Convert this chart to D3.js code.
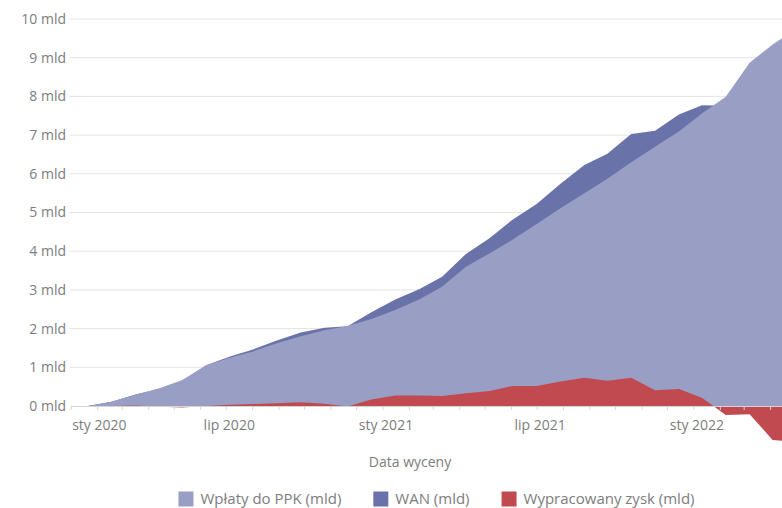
<!DOCTYPE html>
<html lang="pl">
<head>
<meta charset="UTF-8">
<title>PPK - wpłaty, WAN i wypracowany zysk</title>
<style>
    body {
        margin: 0;
        background: #fff;
        font-family: "Open Sans", "Noto Sans", sans-serif;
    }

    svg text {
        fill: #7d7d7d;
        font-size: 14px;
    }

    .legend text {
        font-size: 15px;
    }

    .grid line {
        stroke: #e3e3e3;
        stroke-width: 1;
    }

    .x-axis path,
    .x-axis line {
        stroke: #d4d4d4;
    }
</style>
</head>
<body>
<svg id="chart" width="782" height="508"></svg>

<script src="https://d3js.org/d3.v7.min.js"></script>
<script>
    // valuation dates
    const dates = [
        "2020-01-21", "2020-02-18", "2020-03-17", "2020-04-14", "2020-05-11", "2020-06-08",
        "2020-07-06", "2020-08-02", "2020-08-30", "2020-09-27", "2020-10-25", "2020-11-21",
        "2020-12-19", "2021-01-16", "2021-02-13", "2021-03-12", "2021-04-09", "2021-05-07",
        "2021-06-03", "2021-07-01", "2021-07-29", "2021-08-26", "2021-09-22", "2021-10-20",
        "2021-11-17", "2021-12-15", "2022-01-11", "2022-02-08", "2022-03-08", "2022-04-04",
        "2022-05-02"
    ];

    // mld zł
    const wplaty = [
        0.00, 0.11, 0.29, 0.46, 0.67, 1.05, 1.25, 1.41, 1.62, 1.80, 1.96, 2.07,
        2.25, 2.48, 2.75, 3.08, 3.60, 3.95, 4.30, 4.70, 5.11, 5.50, 5.87, 6.30,
        6.70, 7.09, 7.56, 7.99, 8.87, 9.34, 9.76
    ];
    const wan = [
        0.00, 0.11, 0.30, 0.44, 0.63, 1.05, 1.28, 1.46, 1.69, 1.90, 2.02, 2.06,
        2.42, 2.75, 3.02, 3.34, 3.93, 4.34, 4.82, 5.22, 5.74, 6.23, 6.52, 7.03,
        7.11, 7.53, 7.77, 7.76, 8.66, 8.46, 8.83
    ];
    const zysk = [
        0.00, 0.00, 0.01, -0.02, -0.04, 0.00, 0.03, 0.05, 0.07, 0.10, 0.06, -0.01,
        0.17, 0.27, 0.27, 0.26, 0.33, 0.39, 0.52, 0.52, 0.63, 0.73, 0.65, 0.73,
        0.41, 0.44, 0.21, -0.23, -0.21, -0.88, -0.93
    ];

    const yTicks = [0, 1, 2, 3, 4, 5, 6, 7, 8, 9, 10];
    const xLabelDates = ["2020-01-01", "2020-07-01", "2021-01-01", "2021-07-01", "2022-01-01"];
    const seriesNames = ["Wpłaty do PPK (mld)", "WAN (mld)", "Wypracowany zysk (mld)"];
    const seriesColors = ["#999fc4", "#6a73a9", "#c04a4f"];

    const parse = d3.timeParse("%Y-%m-%d");
    const pl = d3.timeFormatLocale({
        dateTime: "%A, %e %B %Y, %X",
        date: "%d.%m.%Y",
        time: "%H:%M:%S",
        periods: ["AM", "PM"],
        days: ["niedziela", "poniedziałek", "wtorek", "środa", "czwartek", "piątek", "sobota"],
        shortDays: ["niedz.", "pon.", "wt.", "śr.", "czw.", "pt.", "sob."],
        months: ["styczeń", "luty", "marzec", "kwiecień", "maj", "czerwiec", "lipiec", "sierpień", "wrzesień", "październik", "listopad", "grudzień"],
        shortMonths: ["sty", "lut", "mar", "kwi", "maj", "cze", "lip", "sie", "wrz", "paź", "lis", "gru"]
    });
    const fmt = pl.format("%b %Y");

    const rows = dates.map((d, i) => ({
        date: parse(d),
        wplaty: wplaty[i],
        wan: wan[i],
        zysk: zysk[i]
    }));

    const plotLeft = 70.7, plotRight = 782, plotTop = 19, plotBottom = 406;

    const svg = d3.select("#chart");

    const x = d3.scaleTime()
        .domain([parse("2020-01-01"), parse("2022-04-15")])
        .range([plotLeft, plotRight]);

    const y = d3.scaleLinear()
        .domain([0, 10])
        .range([plotBottom, plotTop]);

    // clip so the series run off the right edge
    svg.append("defs").append("clipPath")
        .attr("id", "plot-clip")
        .append("rect")
        .attr("x", plotLeft)
        .attr("y", 0)
        .attr("width", plotRight - plotLeft)
        .attr("height", 480);

    // grid + y labels
    const grid = svg.append("g").attr("class", "grid");
    grid.selectAll("line")
        .data(yTicks.slice(1))
        .enter()
        .append("line")
        .attr("x1", plotLeft - 1)
        .attr("x2", plotRight)
        .attr("y1", d => y(d))
        .attr("y2", d => y(d));

    svg.append("g")
        .selectAll("text")
        .data(yTicks)
        .enter()
        .append("text")
        .attr("x", 66)
        .attr("y", d => y(d))
        .attr("dy", "0.35em")
        .attr("text-anchor", "end")
        .text(d => d + " mld");

    // areas: WAN behind, contributions over it, profit on top
    const plot = svg.append("g").attr("clip-path", "url(#plot-clip)");

    const areaOf = key => d3.area()
        .x(d => x(d.date))
        .y0(y(0))
        .y1(d => y(d[key]));

    plot.append("path")
        .datum(rows)
        .attr("fill", seriesColors[1])
        .attr("d", areaOf("wan"));

    plot.append("path")
        .datum(rows)
        .attr("fill", seriesColors[0])
        .attr("d", areaOf("wplaty"));

    plot.append("path")
        .datum(rows)
        .attr("fill", seriesColors[2])
        .attr("d", areaOf("zysk"));

    // x axis: monthly ticks, labels every half year
    const labelSet = new Set(xLabelDates);
    const monthTicks = d3.timeMonth.range(parse("2020-01-01"), parse("2022-04-15"));

    const xAxis = svg.append("g")
        .attr("class", "x-axis")
        .attr("transform", `translate(0,${plotBottom})`)
        .call(d3.axisBottom(x)
            .tickValues(monthTicks)
            .tickSize(4)
            .tickSizeOuter(0)
            .tickPadding(10)
            .tickFormat(d => labelSet.has(d3.timeFormat("%Y-%m-%d")(d)) ? fmt(d) : ""));

    xAxis.attr("font-family", null).attr("font-size", null);
    xAxis.select(".domain").attr("stroke", "#d4d4d4");
    xAxis.selectAll("text").attr("fill", "#7d7d7d").attr("dx", 3);
    // first label would fall off the left edge: pin it to the axis start
    xAxis.selectAll(".tick text")
        .filter(d => +d === +parse("2020-01-01"))
        .attr("text-anchor", "start")
        .attr("dx", 1);

    svg.append("text")
        .attr("x", 410)
        .attr("y", 467)
        .attr("text-anchor", "middle")
        .text("Data wyceny");

    // legend
    const legend = svg.append("g").attr("class", "legend");
    let lx = 0;
    seriesNames.forEach((name, i) => {
        const item = legend.append("g").attr("transform", `translate(${lx},0)`);
        item.append("rect")
            .attr("width", 15)
            .attr("height", 15)
            .attr("y", -7.5)
            .attr("fill", seriesColors[i]);
        const t = item.append("text")
            .attr("x", 22)
            .attr("dy", "0.35em")
            .text(name);
        lx += 22 + t.node().getComputedTextLength() + 32;
    });
    const legendWidth = lx - 32;
    legend.attr("transform", `translate(${436.5 - legendWidth / 2},499)`);
</script>
</body>
</html>
